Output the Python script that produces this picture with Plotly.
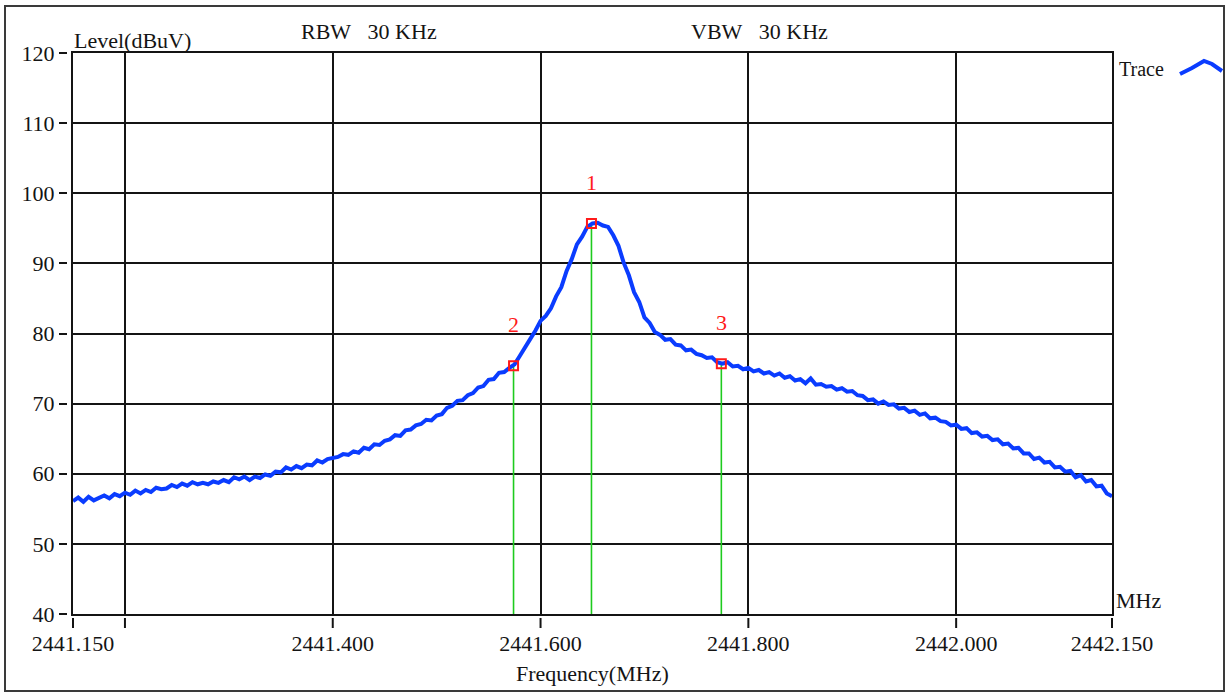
import plotly.graph_objects as go

# ---- sweep data -------------------------------------------------------
FREQ_START = 2441.150   # MHz
FREQ_STEP = 0.005       # MHz per sweep point

level_dbuv = [
    56.1, 56.6, 56.0, 56.7, 56.2, 56.5, 56.9, 56.5, 57.1, 56.8,
    57.3, 57.0, 57.6, 57.2, 57.7, 57.4, 58.0, 57.8, 57.9, 58.4,
    58.1, 58.6, 58.3, 58.8, 58.5, 58.7, 58.5, 58.9, 58.7, 59.1,
    58.8, 59.5, 59.2, 59.6, 59.1, 59.6, 59.4, 59.9, 59.7, 60.3,
    60.2, 60.9, 60.6, 61.1, 60.8, 61.3, 61.2, 61.9, 61.6, 62.1,
    62.3, 62.4, 62.8, 62.7, 63.2, 63.0, 63.7, 63.5, 64.2, 64.1,
    64.7, 64.9, 65.5, 65.4, 66.2, 66.3, 66.9, 67.1, 67.7, 67.6,
    68.3, 68.5, 69.4, 69.7, 70.4, 70.5, 71.2, 71.5, 72.3, 72.5,
    73.4, 73.5, 74.4, 74.5, 75.1, 75.6, 76.8, 77.9, 79.2, 80.4,
    81.8, 82.5, 83.6, 85.3, 86.6, 88.9, 90.6, 92.7, 93.8, 95.2,
    95.7, 95.8, 95.4, 95.2, 94.0, 92.5, 90.1, 88.3, 85.9, 84.5,
    82.3, 81.5, 80.2, 79.8, 79.1, 79.2, 78.4, 78.3, 77.6, 77.7,
    77.1, 76.9, 76.5, 76.6, 75.9, 75.7, 75.9, 75.3, 75.4, 74.9,
    75.1, 74.6, 74.8, 74.3, 74.5, 74.0, 74.3, 73.7, 73.9, 73.3,
    73.5, 72.9, 73.6, 72.7, 72.8, 72.4, 72.5, 72.0, 72.2, 71.7,
    71.8, 71.2, 71.1, 70.5, 70.6, 70.0, 70.3, 69.8, 69.9, 69.3,
    69.4, 68.8, 69.0, 68.4, 68.6, 67.9, 68.0, 67.5, 67.4, 66.9,
    67.0, 66.4, 66.5, 65.8, 65.9, 65.3, 65.4, 64.8, 64.9, 64.2,
    64.3, 63.6, 63.7, 62.9, 62.9, 62.1, 62.3, 61.6, 61.7, 60.9,
    61.0, 60.3, 60.4, 59.5, 59.8, 58.9, 59.1, 58.2, 58.3, 57.2,
    56.8,
]
freq_mhz = [round(FREQ_START + i * FREQ_STEP, 3) for i in range(len(level_dbuv))]

# markers placed on the trace
marker_names = ["1", "2", "3"]
marker_freq = [2441.649, 2441.574, 2441.774]
marker_level = [95.7, 75.4, 75.7]

# axis ticks / grid
x_grid_vals = [2441.2, 2441.4, 2441.6, 2441.8, 2442.0]
x_tick_vals = [2441.15, 2441.2, 2441.4, 2441.6, 2441.8, 2442.0, 2442.15]
x_tick_text = ["2441.150", "", "2441.400", "2441.600", "2441.800", "2442.000", "2442.150"]
y_grid_vals = [50, 60, 70, 80, 90, 100, 110]
y_tick_vals = [40, 50, 60, 70, 80, 90, 100, 110, 120]
y_tick_text = [str(v) for v in y_tick_vals]

X_RANGE = [2441.15, 2442.15]
Y_RANGE = [40, 120]

# ---- page geometry (pixels) -----------------------------------------
W, H = 1229, 696
ML, MR, MT, MB = 67, 117, 53, 68
PW = W - ML - MR
PH = H - MT - MB
FRAME_LEFT, FRAME_BOTTOM = 73, 614
FRAME_RIGHT = W - MR
x_dom = [(FRAME_LEFT - ML) / PW, 1]


def px(xpix):
    return (xpix - ML) / PW


def py(ypix):
    return ((H - MB) - ypix) / PH


def freq_to_paper(f):
    """Paper x of a frequency on the frame (x axis is linear)."""
    frac = (f - X_RANGE[0]) / (X_RANGE[1] - X_RANGE[0])
    return px(FRAME_LEFT + frac * (FRAME_RIGHT - FRAME_LEFT))


y_dom = [py(FRAME_BOTTOM), 1]

FONT = "Liberation Serif"
INK = "#141414"
BLUE = "#0a3cff"

fig = go.Figure()

# marker drop lines
drop_x, drop_y = [], []
for f, v in zip(marker_freq, marker_level):
    drop_x += [f, f, None]
    drop_y += [Y_RANGE[0], v, None]

fig.add_trace(go.Scatter(
    x=drop_x, y=drop_y, mode="lines",
    line=dict(color="#1ecb1e", width=1.6),
    xaxis="x", yaxis="y", hoverinfo="skip",
))

fig.add_trace(go.Scatter(
    x=freq_mhz, y=level_dbuv, mode="lines", name="Trace",
    line=dict(color=BLUE, width=4),
    xaxis="x", yaxis="y",
))

fig.add_trace(go.Scatter(
    x=marker_freq, y=marker_level, mode="markers",
    marker=dict(symbol="square-open", size=9, color="#ff1a1a",
                line=dict(width=2, color="#ff1a1a")),
    xaxis="x2", yaxis="y2", hoverinfo="skip",
))

annotations = []
for name, f, v in zip(marker_names, marker_freq, marker_level):
    annotations.append(dict(
        x=f, y=v, xref="x", yref="y", text=name, showarrow=False,
        yshift=41, font=dict(family=FONT, size=22, color="#ff1a1a"),
    ))


def label(text, xpix, ypix, anchor="left", size=22):
    annotations.append(dict(
        x=px(xpix), y=py(ypix), xref="paper", yref="paper", text=text,
        showarrow=False, xanchor=anchor, yanchor="middle",
        font=dict(family=FONT, size=size, color=INK),
    ))


label("Level(dBuV)", 72, 40)
label("RBW&nbsp;&nbsp;&nbsp;30 KHz", 299, 31)
label("VBW&nbsp;&nbsp;&nbsp;30 KHz", 689, 31)
label("Trace", 1117, 69, size=20)
label("MHz", 1114, 600)
label("Frequency(MHz)", 592, 673, anchor="center")

shapes = [
    # outer panel border
    dict(type="rect", xref="paper", yref="paper",
         x0=px(5), x1=px(1224), y0=py(691), y1=py(6),
         line=dict(color="#3a3a3a", width=2), layer="below"),
    # legend glyph
    dict(type="path", xref="paper", yref="paper",
         path="M {:.5f},{:.5f} L {:.5f},{:.5f} L {:.5f},{:.5f} L {:.5f},{:.5f} L {:.5f},{:.5f}".format(
             px(1180), py(74), px(1192), py(68), px(1204), py(61),
             px(1212), py(64), px(1222), py(71)),
         line=dict(color=BLUE, width=4)),
]

# frequency tick marks, hanging a few pixels below the frame
for tv in x_tick_vals:
    xt = freq_to_paper(tv)
    shapes.append(dict(type="rect", xref="paper", yref="paper",
                       x0=xt - 1.0 / PW, x1=xt + 1.0 / PW,
                       y0=py(628), y1=py(618),
                       line=dict(width=0), fillcolor=INK, layer="above"))

frame_axis = dict(
    showgrid=True, gridcolor=INK, gridwidth=1.5,
    showline=True, mirror=True, linecolor=INK, linewidth=2,
    zeroline=False, ticks="", showticklabels=False, fixedrange=True,
)
tick_font = dict(family=FONT, size=22, color=INK)

fig.update_layout(
    width=W, height=H,
    margin=dict(l=ML, r=MR, t=MT, b=MB, pad=0),
    paper_bgcolor="white", plot_bgcolor="white",
    showlegend=False,
    xaxis=dict(frame_axis, domain=x_dom, range=X_RANGE,
               tickmode="array", tickvals=x_grid_vals),
    yaxis=dict(frame_axis, domain=y_dom, range=Y_RANGE,
               tickmode="array", tickvals=y_grid_vals),
    xaxis2=dict(overlaying="x", anchor="free", position=0, side="bottom",
                domain=x_dom, range=X_RANGE, tickmode="array",
                tickvals=x_tick_vals, ticktext=x_tick_text,
                ticks="", showgrid=False, showline=False, zeroline=False,
                tickfont=tick_font, fixedrange=True),
    yaxis2=dict(overlaying="y", anchor="free", position=0, side="left",
                domain=y_dom, range=Y_RANGE, tickmode="array",
                tickvals=y_tick_vals, ticktext=y_tick_text,
                ticks="outside", ticklen=8, tickwidth=1.5, tickcolor=INK,
                showgrid=False, showline=False, zeroline=False,
                tickfont=tick_font, fixedrange=True),
    annotations=annotations,
    shapes=shapes,
)

fig.write_html("out.html")
